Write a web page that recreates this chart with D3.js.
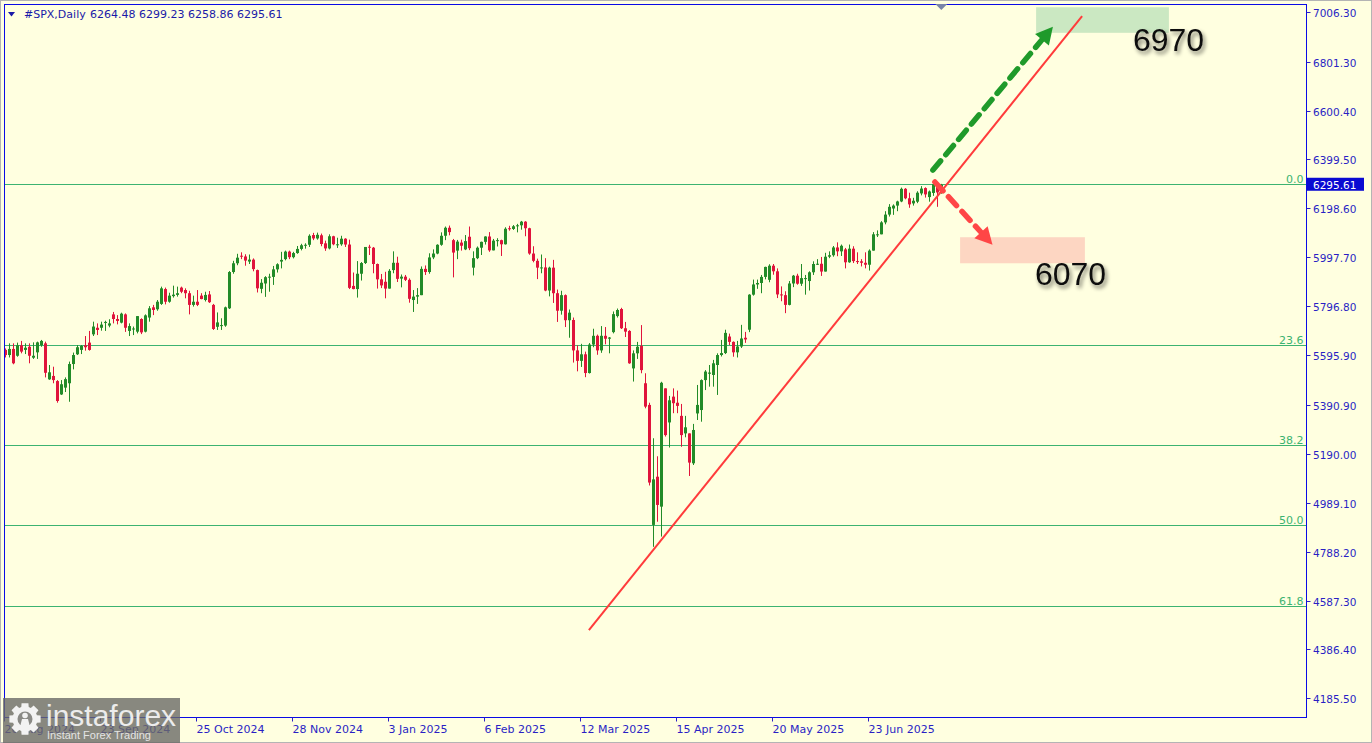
<!DOCTYPE html>
<html><head><meta charset="utf-8">
<script src="https://cdn.jsdelivr.net/npm/d3@7"></script>
<style>html,body{margin:0;padding:0;background:#ffffe0;overflow:hidden}svg{display:block}</style>
</head><body><svg id="c" width="1372" height="743"></svg>
<script>
// ---------- DATA ----------
const symbolTitle = "#SPX,Daily";
const lastBarText = "6264.48 6299.23 6258.86 6295.61";
const lastPrice = 6295.61;
// daily candles [open, high, low, close], 20 Aug 2024 .. 17 Jul 2025
const ohlc = [
[5617,5623,5586,5596],[5596,5644,5586,5621],[5621,5644,5558,5562],[5593,5647,5589,5636],[5636,5654,5603,5610],
[5617,5644,5600,5626],[5630,5644,5562,5593],[5585,5648,5580,5593],[5607,5651,5580,5648],[5637,5658,5630,5654],
[5644,5651,5504,5523],[5496,5555,5494,5525],[5510,5548,5480,5493],[5489,5493,5400,5407],[5434,5493,5432,5476],
[5462,5504,5444,5497],[5480,5569,5404,5559],[5559,5606,5537,5596],[5599,5637,5596,5628],[5617,5637,5600,5633],
[5636,5674,5614,5628],[5647,5695,5614,5617],[5681,5733,5674,5713],[5708,5726,5678,5699],[5708,5733,5696,5721],
[5729,5737,5695,5732],[5717,5743,5710,5726],[5763,5773,5726,5744],[5744,5760,5722,5736],[5729,5770,5726,5766],
[5763,5767,5691,5708],[5695,5726,5674,5715],[5703,5713,5678,5705],[5692,5756,5685,5756],[5744,5747,5682,5689],
[5692,5763,5689,5759],[5750,5797,5733,5788],[5792,5802,5760,5781],[5784,5822,5778,5815],[5806,5877,5802,5870],
[5867,5873,5804,5815],[5815,5852,5811,5840],[5838,5881,5832,5844],[5843,5877,5836,5850],[5873,5877,5850,5856],
[5863,5870,5829,5850],[5850,5860,5763,5802],[5802,5840,5795,5815],[5815,5863,5797,5802],[5840,5850,5825,5826],
[5822,5856,5816,5843],[5845,5859,5810,5813],[5802,5806,5699,5703],[5712,5771,5699,5730],[5716,5747,5699,5719],
[5717,5795,5712,5792],[5788,5941,5785,5937],[5937,5983,5930,5973],[5973,6012,5965,5996],[6004,6018,5990,6001],
[6001,6010,5963,5984],[5980,6009,5970,5988],[5988,5993,5940,5949],[5945,5947,5853,5870],[5868,5908,5850,5893],
[5890,5920,5835,5916],[5914,5930,5856,5918],[5917,5962,5884,5948],[5948,5973,5935,5969],[5980,6020,5952,5987],
[5990,6025,5985,6021],[6021,6025,5990,5998],[5998,6020,5993,6015],[6015,6044,6012,6032],[6032,6053,6026,6047],
[6045,6055,6033,6049],[6049,6092,6040,6086],[6089,6098,6068,6075],[6075,6099,6070,6090],[6088,6095,6043,6052],
[6055,6066,6024,6034],[6034,6092,6030,6084],[6084,6086,6047,6051],[6048,6078,6036,6051],[6051,6086,6045,6074],
[6074,6076,6040,6050],[6050,6070,5867,5872],[5880,5935,5866,5867],[5867,5982,5832,5930],[5930,5978,5902,5974],
[5974,6040,5970,6040],[6041,6049,6007,6037],[6037,6040,5932,5970],[5970,5972,5869,5907],[5907,5929,5871,5882],
[5897,5938,5829,5869],[5869,5949,5869,5942],[5945,6022,5932,5975],[5975,6000,5896,5909],[5910,5927,5874,5918],
[5918,5925,5900,5905],[5905,5911,5811,5827],[5822,5863,5773,5836],[5836,5871,5806,5842],[5842,5960,5842,5950],
[5950,5964,5925,5937],[5937,6014,5930,5997],[5997,6030,5990,6013],[6013,6051,6010,6049],[6049,6100,6045,6086],
[6086,6124,6068,6119],[6119,6128,6088,6101],[6068,6073,5915,6017],[6025,6069,5990,6062],[6058,6070,6025,6045],
[6030,6089,6027,6064],[6082,6124,6027,6035],[5955,6022,5923,5994],[5994,6042,5990,6037],[6037,6062,6007,6061],
[6061,6084,6050,6083],[6083,6101,6020,6026],[6026,6073,6026,6066],[6066,6076,6042,6068],[6068,6070,6003,6051],
[6051,6121,6050,6115],[6117,6127,6107,6114],[6114,6130,6110,6125],[6125,6135,6100,6129],[6129,6147,6111,6144],
[6144,6146,6084,6117],[6117,6119,6008,6013],[6013,6043,5977,5983],[5983,5992,5908,5955],[5955,6009,5932,5956],
[5956,5994,5858,5861],[5861,5959,5837,5955],[5955,5987,5810,5850],[5850,5865,5732,5778],[5778,5860,5762,5842],
[5842,5845,5711,5739],[5739,5783,5667,5770],[5740,5750,5565,5615],[5615,5636,5529,5572],[5572,5642,5547,5599],
[5599,5610,5505,5522],[5522,5645,5520,5639],[5639,5704,5628,5675],[5675,5680,5597,5615],[5615,5715,5605,5675],
[5675,5711,5640,5663],[5663,5670,5603,5668],[5690,5775,5685,5764],[5756,5787,5750,5781],[5785,5790,5703,5706],
[5706,5732,5670,5692],[5695,5698,5560,5562],[5541,5615,5487,5603],[5603,5650,5580,5630],[5634,5719,5521,5534],
[5480,5521,5377,5384],[5391,5400,5060,5072],[4898,5254,4808,5085],[5096,5180,4911,4980],[4973,5486,4850,5482],
[5459,5459,5261,5267],[5319,5428,5216,5410],[5425,5459,5357,5398],[5400,5450,5357,5387],[5346,5395,5219,5267],
[5274,5346,5258,5299],[5274,5274,5099,5154],[5151,5313,5144,5288],[5356,5473,5329,5391],[5370,5496,5322,5493],
[5493,5534,5452,5528],[5519,5555,5466,5524],[5514,5576,5466,5562],[5555,5603,5432,5596],[5596,5658,5590,5604],
[5604,5700,5600,5687],[5672,5684,5637,5650],[5650,5652,5589,5607],[5607,5654,5586,5631],[5631,5720,5625,5664],
[5667,5691,5646,5660],[5700,5846,5690,5844],[5844,5906,5840,5886],[5886,5906,5868,5892],[5892,5925,5850,5917],
[5917,5959,5907,5958],[5905,5969,5895,5963],[5963,5970,5926,5940],[5940,5952,5830,5845],[5845,5878,5817,5842],
[5842,5858,5768,5802],[5802,5900,5800,5890],[5890,5925,5875,5922],[5922,5930,5885,5889],[5889,5970,5880,5912],
[5908,5925,5844,5912],[5900,5940,5861,5936],[5936,5981,5925,5970],[5970,5990,5966,5971],[5971,5999,5921,5939],
[5939,6016,5939,6000],[6000,6022,5994,6006],[6006,6044,6000,6038],[6038,6059,6002,6022],[6022,6050,6003,6045],
[6030,6036,5952,5977],[5977,6050,5975,6033],[6033,6043,5974,5982],[5982,6018,5970,5981],[5981,5990,5960,5975],
[5975,6018,5952,5967],[5967,6030,5943,6025],[6025,6101,6025,6092],[6090,6108,6081,6092],[6092,6146,6092,6141],
[6141,6187,6133,6173],[6173,6216,6165,6205],[6198,6215,6172,6210],[6210,6230,6187,6227],[6227,6284,6224,6279],
[6279,6282,6236,6240],[6240,6263,6201,6215],[6219,6242,6210,6230],[6226,6269,6220,6263],[6260,6290,6252,6280],
[6282,6285,6243,6256],[6245,6272,6226,6268],[6262,6304,6250,6298],[6298,6300,6205,6264],[6264.48,6299.23,6258.86,6295.61]
];
const priceTicks = [7006.30,6801.30,6600.40,6399.50,6198.60,5997.70,5796.80,5595.90,5390.90,5190.00,4989.10,4788.20,4587.30,4386.40,4185.50];
const dateLabels = ["20 Aug 2024","23 Sep 2024","25 Oct 2024","28 Nov 2024","3 Jan 2025","6 Feb 2025","12 Mar 2025","15 Apr 2025","20 May 2025","23 Jun 2025"];
const dateBarIndex = [0,24,48,72,96,120,144,168,192,216];
const fibLevels = [0.0, 23.6, 38.2, 50.0, 61.8];
const fibTop = 6298.8, fibBottom = 3496.2;
// annotations in (bar index, price)
const trendLine = [[145.9,4466],[269.2,6989]];
const upArrow = [[231.9,6356],[261.9,6945]];
const downArrow = [[232.4,6307],[246.8,6049]];
const upZone = {x0:257.7, x1:290.9, p0:7025, p1:6920};
const downZone = {x0:238.7, x1:269.9, p0:6080, p1:5973};
const targetUp = {label:"6970", bar:281.9, price:6847};
const targetDown = {label:"6070", bar:257.4, price:5884};

// ---------- LAYOUT ----------
const W=1372,H=743;
const plot={l:4.5,t:4.5,r:1306.5,b:717.5};
const svg=d3.select("#c");
const FONT="'DejaVu Sans', Verdana, sans-serif";
const AXC="#2a1fc4";
const x=d3.scaleLinear().domain([0,234]).range([5.3,941.3]);
const y=d3.scaleLinear().domain([4185.5,7006.3]).range([698.3,11.8]);

const defs=svg.append("defs");
defs.append("clipPath").attr("id","pc").append("rect").attr("x",plot.l+0.5).attr("y",plot.t+0.5).attr("width",plot.r-plot.l-1).attr("height",plot.b-plot.t-1);
const f=defs.append("filter").attr("id","sh").attr("x","-20%").attr("y","-30%").attr("width","150%").attr("height","170%");
f.append("feGaussianBlur").attr("in","SourceAlpha").attr("stdDeviation",2.2).attr("result","b");
f.append("feOffset").attr("in","b").attr("dx",2).attr("dy",3).attr("result","o");
f.append("feComponentTransfer").attr("in","o").attr("result","oa").append("feFuncA").attr("type","linear").attr("slope",0.55);
const fm=f.append("feMerge");fm.append("feMergeNode").attr("in","oa");fm.append("feMergeNode").attr("in","SourceGraphic");

svg.append("rect").attr("width",W).attr("height",H).attr("fill","#ffffe0");
svg.append("rect").attr("x",0.5).attr("y",0.5).attr("width",W-1).attr("height",H-1).attr("fill","none").attr("stroke","#b4b4b4");

const g=svg.append("g").attr("clip-path","url(#pc)");

// fib levels
const fibPrice=l=>fibTop-(fibTop-fibBottom)*l/100;
fibLevels.forEach(l=>{
  const yy=Math.round(y(fibPrice(l)))+0.5;
  g.append("line").attr("x1",plot.l).attr("x2",plot.r).attr("y1",yy).attr("y2",yy).attr("stroke","#3cb371").attr("stroke-width",1);
  svg.append("text").attr("x",plot.r-3).attr("y",yy-2).attr("text-anchor","end").attr("font-family",FONT).attr("font-size",11).attr("fill","#3cb371").text(l.toFixed(1));
});

// zones
g.append("rect").attr("x",x(upZone.x0)).attr("y",y(upZone.p0)).attr("width",x(upZone.x1)-x(upZone.x0)).attr("height",y(upZone.p1)-y(upZone.p0)).attr("fill","#cbe8c2");
g.append("rect").attr("x",x(downZone.x0)).attr("y",y(downZone.p0)).attr("width",x(downZone.x1)-x(downZone.x0)).attr("height",y(downZone.p1)-y(downZone.p0)).attr("fill","#fdd6c2");

// candles
const UP="#228b28", DN="#e0143c";
const cg=g.append("g");
ohlc.forEach((d,i)=>{
  const [o,h,l,c]=d; const col=c>=o?UP:DN;
  const cx=Math.round(x(i));
  cg.append("line").attr("x1",cx+0.5).attr("x2",cx+0.5).attr("y1",y(h)).attr("y2",y(l)).attr("stroke",col).attr("stroke-width",1);
  const yt=y(Math.max(o,c)), yb=y(Math.min(o,c));
  cg.append("rect").attr("x",cx-1).attr("y",yt).attr("width",3).attr("height",Math.max(1,yb-yt)).attr("fill",col);
});

// trend line
g.append("line").attr("x1",x(trendLine[0][0])).attr("y1",y(trendLine[0][1])).attr("x2",x(trendLine[1][0])).attr("y2",y(trendLine[1][1])).attr("stroke","#ff3b3b").attr("stroke-width",2);

// dashed arrows
function arrow(pts,col,dash){
  const x1=x(pts[0][0]),y1=y(pts[0][1]),x2=x(pts[1][0]),y2=y(pts[1][1]);
  const a=Math.atan2(y2-y1,x2-x1), L=17, Wd=9;
  const bx=x2-L*Math.cos(a), by=y2-L*Math.sin(a);
  g.append("line").attr("x1",x1).attr("y1",y1).attr("x2",bx).attr("y2",by).attr("stroke",col).attr("stroke-width",5.5).attr("stroke-dasharray",dash).attr("stroke-linecap","round");
  const px=-Math.sin(a),py=Math.cos(a);
  g.append("path").attr("d",`M${x2},${y2}L${bx+px*Wd},${by+py*Wd}L${bx-px*Wd},${by-py*Wd}Z`).attr("fill",col);
}
arrow(upArrow,"#1f9a2a","12,8");
arrow(downArrow,"#ff4646","12,8");

// target labels
[targetUp,targetDown].forEach(t=>{
  svg.append("text").attr("x",x(t.bar)).attr("y",y(t.price)).attr("font-family","'Liberation Sans', Arial, sans-serif").attr("font-size",32).attr("fill","#111").attr("filter","url(#sh)").text(t.label);
});

// frame
svg.append("rect").attr("x",plot.l).attr("y",plot.t).attr("width",plot.r-plot.l).attr("height",plot.b-plot.t).attr("fill","none").attr("stroke","#0a0ae6").attr("stroke-width",1);

// chart shift marker
svg.append("path").attr("d",`M${x(234)-6},4L${x(234)+6},4L${x(234)},10Z`).attr("fill","#7884a8");

// right axis
priceTicks.forEach(v=>{
  const yy=Math.round(y(v))+0.5;
  svg.append("line").attr("x1",plot.r).attr("x2",plot.r+4).attr("y1",yy).attr("y2",yy).attr("stroke",AXC);
  svg.append("text").attr("x",1313).attr("y",yy+4).attr("font-family",FONT).attr("font-size",10.5).attr("fill",AXC).text(v.toFixed(2));
});
const ly=y(lastPrice);
svg.append("rect").attr("x",1307).attr("y",ly-7).attr("width",57).attr("height",13).attr("fill","#0a0ad2");
svg.append("text").attr("x",1313).attr("y",ly+4).attr("font-family",FONT).attr("font-size",10.5).attr("fill","#fff").text(lastPrice.toFixed(2));

// bottom axis
dateLabels.forEach((t,k)=>{
  const xx=Math.round(x(dateBarIndex[k]))-0.5;
  svg.append("line").attr("x1",xx).attr("x2",xx).attr("y1",plot.b).attr("y2",plot.b+4).attr("stroke",AXC);
  svg.append("text").attr("x",xx).attr("y",733).attr("font-family",FONT).attr("font-size",11).attr("fill",AXC).text(t);
});

// header
svg.append("path").attr("d","M8,12L15,12L11.5,16.5Z").attr("fill","#1a1aa8");
svg.append("text").attr("x",24).attr("y",18).attr("font-family",FONT).attr("font-size",11).attr("fill","#1a1aa8").text(symbolTitle);
svg.append("text").attr("x",90).attr("y",18).attr("font-family",FONT).attr("font-size",11).attr("fill","#1a1aa8").text(lastBarText);

// logo watermark
const lg=svg.append("g");
lg.append("rect").attr("x",3).attr("y",698).attr("width",177).attr("height",45).attr("fill","#6a6a66").attr("opacity",0.8);
const gp=d3.path(); const gx=25,gy=719,R1=16,R0=12.5,n=8;
for(let k=0;k<n;k++){
  const a0=(k/n)*2*Math.PI, w=Math.PI/n*0.55;
  const pts=[[R0,a0-w*1.4],[R1,a0-w],[R1,a0+w],[R0,a0+w*1.4]];
  pts.forEach((p,j)=>{const px=gx+p[0]*Math.cos(p[1]),py=gy+p[0]*Math.sin(p[1]); if(k===0&&j===0)gp.moveTo(px,py); else gp.lineTo(px,py);});
}
gp.closePath();
lg.append("path").attr("d",gp.toString()).attr("fill","#f2f2f2");
lg.append("circle").attr("cx",gx).attr("cy",gy).attr("r",7.5).attr("fill","#8a8a86");
lg.append("circle").attr("cx",gx).attr("cy",gy-3.5).attr("r",2.8).attr("fill","#f2f2f2");
lg.append("path").attr("d",`M${gx-5},${gy+8}L${gx-3},${gy}L${gx+3},${gy}L${gx+5},${gy+8}Z`).attr("fill","#f2f2f2");
lg.append("text").attr("x",46).attr("y",726).attr("font-family","'Liberation Sans', Arial, sans-serif").attr("font-size",30).attr("fill","#ececec").text("instaforex");
lg.append("text").attr("x",47).attr("y",739).attr("font-family","'Liberation Sans', Arial, sans-serif").attr("font-size",11).attr("fill","#e4e4e4").text("Instant Forex Trading");
</script></body></html>
